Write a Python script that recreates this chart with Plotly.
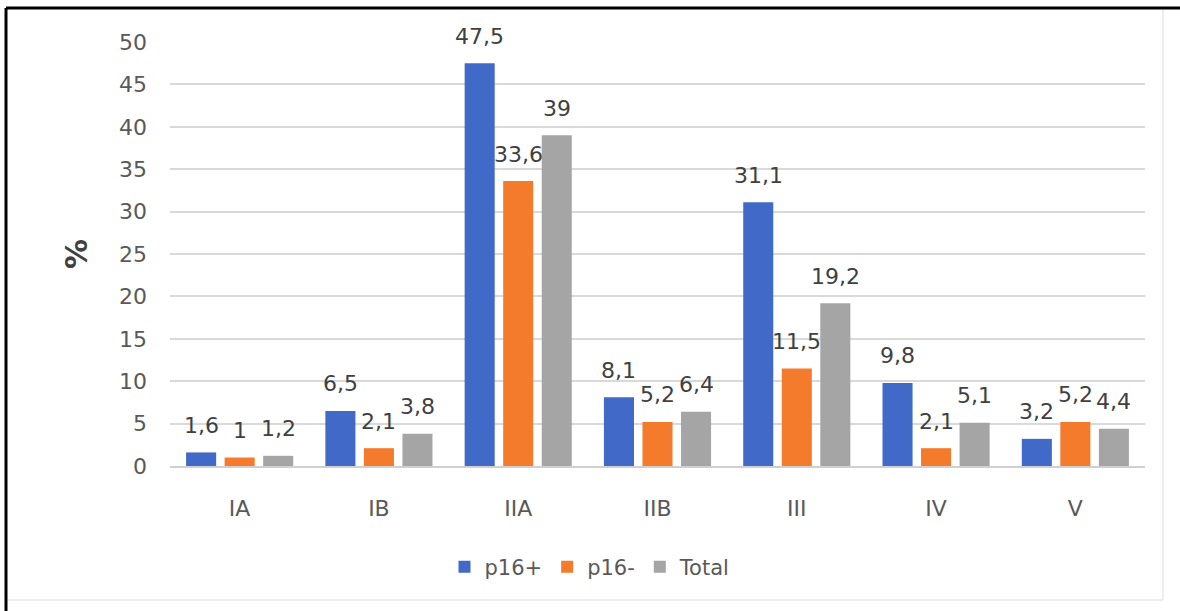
import plotly.graph_objects as go

categories = ["IA", "IB", "IIA", "IIB", "III", "IV", "V"]
p16_pos = [1.6, 6.5, 47.5, 8.1, 31.1, 9.8, 3.2]
p16_neg = [1, 2.1, 33.6, 5.2, 11.5, 2.1, 5.2]
total = [1.2, 3.8, 39, 6.4, 19.2, 5.1, 4.4]
series_names = ["p16+", "p16-", "Total"]
y_ticks = list(range(0, 51, 5))

colors = ["#4169C8", "#F47B2C", "#A5A5A5"]
W, H = 1180, 611
ML, MR, MT, MB = 170, 35, 42, 145
BARGAP, BARGROUPGAP = 0.17, 0.22
FONT = "DejaVu Sans"

fig = go.Figure()
series = [p16_pos, p16_neg, total]
for name, vals, col in zip(series_names, series, colors):
    fig.add_trace(go.Bar(x=categories, y=vals, name=name, marker=dict(color=col, line=dict(width=0))))

# data labels
plot_w = W - ML - MR
slot = plot_w / len(categories) * (1 - BARGAP) / len(series)
annos = []
for si, vals in enumerate(series):
    for cat, v in zip(categories, vals):
        annos.append(dict(
            x=cat, y=v, xref="x", yref="y",
            text=f"{v:g}".replace(".", ","),
            showarrow=False, xanchor="center", yanchor="middle",
            xshift=(si - 1) * slot, yshift=27,
            font=dict(family=FONT, size=22, color="#404040"),
        ))

# y-axis title
annos.append(dict(
    x=(76 - ML) / plot_w, y=0.5, xref="paper", yref="paper",
    text="<b>%</b>", textangle=-90, showarrow=False,
    xanchor="center", yanchor="middle",
    font=dict(family=FONT, size=30, color="#404040"),
))

plot_h = H - MT - MB
def px_x(p):
    return (p - ML) / plot_w
def px_y(p):
    return (H - MB - p) / plot_h

shapes = [
    dict(type="line", xref="paper", yref="paper", x0=px_x(1163), x1=px_x(1163), y0=px_y(8), y1=px_y(600),
         line=dict(color="#EDEDED", width=2), layer="below"),
    dict(type="line", xref="paper", yref="paper", x0=px_x(7), x1=px_x(1163), y0=px_y(600), y1=px_y(600),
         line=dict(color="#EDEDED", width=2), layer="below"),
    dict(type="line", xref="paper", yref="paper", x0=px_x(6), x1=px_x(1200), y0=px_y(8), y1=px_y(8),
         line=dict(color="#000000", width=3)),
    dict(type="line", xref="paper", yref="paper", x0=px_x(6), x1=px_x(6), y0=px_y(8), y1=px_y(640),
         line=dict(color="#000000", width=3)),
]

fig.update_layout(
    width=W, height=H,
    margin=dict(l=ML, r=MR, t=MT, b=MB, pad=0),
    paper_bgcolor="white", plot_bgcolor="white",
    barmode="group", bargap=BARGAP, bargroupgap=BARGROUPGAP,
    font=dict(family=FONT, size=22, color="#595959"),
    showlegend=True,
    legend=dict(orientation="h", xref="container", yref="container",
                x=0.5, xanchor="center", y=1 - 567 / H, yanchor="middle",
                font=dict(family=FONT, size=21, color="#595959"),
                itemwidth=30, tracegroupgap=0),
    annotations=annos,
    shapes=shapes,
)
fig.update_xaxes(
    type="category", showgrid=False, ticks="", showline=True,
    linecolor="#D0D0D0", linewidth=1.5, ticklabelstandoff=22,
    tickfont=dict(family=FONT, size=22, color="#595959"),
)
fig.update_yaxes(
    range=[0, 50], tickvals=y_ticks, showgrid=True, gridcolor="#D9D9D9", gridwidth=1.5,
    zeroline=False, showline=False, ticks="", ticklabelstandoff=22,
    tickfont=dict(family=FONT, size=22, color="#595959"),
)

fig.write_html("out.html")
